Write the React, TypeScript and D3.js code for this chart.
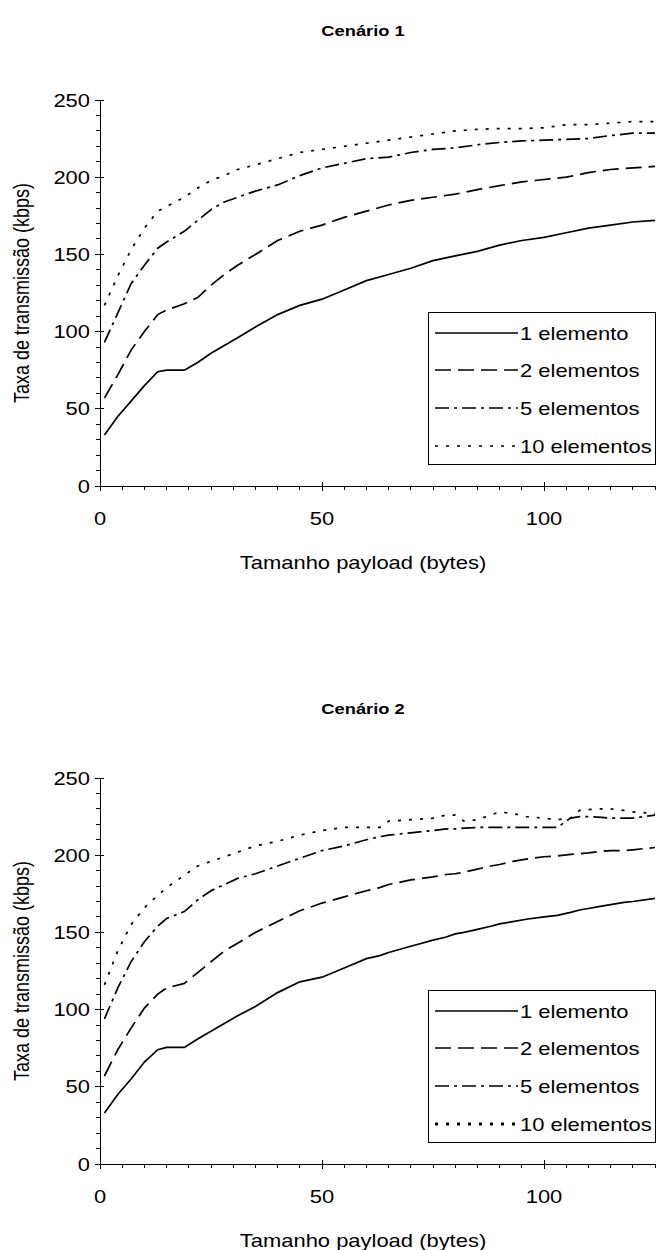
import React from 'react';
import * as d3 from 'd3';

// payload sizes (bytes) sampled for each scenario
const payload1 = [1, 4, 7, 10, 13, 15, 19, 22, 25, 28, 31, 35, 40, 45, 50, 55, 60, 65, 70, 75, 80, 85, 90, 95, 100, 105, 110, 115, 120, 125];
const payload2 = [1, 4, 7, 10, 13, 15, 19, 22, 25, 28, 31, 35, 40, 45, 50, 55, 60, 63, 65, 70, 75, 78, 80, 82, 85, 88, 90, 93, 96, 100, 103, 106, 108, 110, 113, 115, 118, 120, 125];

// Cenário 1 (kbps)
const c1Elem1 = [33, 45, 55, 65, 74, 75, 75, 80, 86, 91, 96, 103, 111, 117, 121, 127, 133, 137, 141, 146, 149, 152, 156, 159, 161, 164, 167, 169, 171, 172];
const c1Elem2 = [57, 72, 88, 100, 111, 114, 118, 122, 130, 137, 143, 150, 159, 165, 169, 174, 178, 182, 185, 187, 189, 192, 194.5, 197, 198.5, 200, 203, 205, 206, 207];
const c1Elem5 = [93, 112, 131, 143, 154, 158, 165, 172, 179, 184, 187, 191, 195, 201, 206, 209, 212, 213, 216, 218, 219, 221, 222.5, 223.5, 224, 224.5, 225, 227, 228.5, 228.5];
const c1Elem10 = [117, 136, 153, 167, 178, 181, 187, 193, 198, 201, 205, 208, 212, 216, 218, 220, 222, 224, 226, 228, 230, 231, 231.5, 231.5, 232, 234, 234, 235, 236, 236];

// Cenário 2 (kbps)
const c2Elem1 = [33, 45, 55, 66, 74, 75.5, 75.5, 81, 86, 91, 96, 102, 111, 118, 121, 127, 133, 135, 137, 141, 145, 147, 149, 150, 152, 154, 155.5, 157, 158.5, 160, 161, 163, 164.5, 165.5, 167, 168, 169.5, 170, 172];
const c2Elem2 = [57, 74, 88, 101, 110, 114, 117, 124, 131, 138, 143, 150, 157, 164, 169, 173, 177, 179, 181, 184, 186, 187.5, 188, 189, 191, 193, 194, 196, 197.5, 199, 199.5, 200.5, 201, 201.5, 202.5, 203, 203, 203.5, 205];
const c2Elem5 = [94, 114, 131, 144, 154, 159, 163.5, 171, 177, 181, 185, 188, 193, 198, 203, 206, 210, 212, 213, 214.5, 216, 217, 217, 217.5, 218, 218, 218, 218, 218, 218, 218, 224, 225, 225, 224.5, 224, 224, 224, 226];
const c2Elem10 = [116, 138, 155, 166, 174, 179, 187, 193, 196, 199, 202, 206, 209, 213, 216, 218, 218, 218, 222, 223, 224, 226, 226, 222, 223, 226, 228, 227, 225, 224, 223, 224, 229, 229.5, 230, 230, 229, 228, 227];

const seriesNames = ['1 elemento', '2 elementos', '5 elementos', '10 elementos'];
const yMajor = [0, 50, 100, 150, 200, 250];
const xMajor = [0, 50, 100];

const FONT = '"Liberation Sans", Arial, Helvetica, sans-serif';
const SX = 1.22; // the original figure is stretched sideways
const dashes = ['none', '16,7', '14,5,3,5', '3,8'];

type TProps = { x: number; y: number; anchor?: string; size?: number; bold?: boolean; rot?: boolean; children: React.ReactNode };

// text with the same sideways stretch as the source image
function T({ x, y, anchor = 'start', size = 18, bold = false, rot = false, children }: TProps) {
  return (
    <text transform={`translate(${x},${y}) scale(${SX},1)${rot ? ' rotate(-90)' : ''}`}
      textAnchor={anchor} fontSize={size} fontWeight={bold ? 'bold' : 'normal'} fill="#000">
      {children}
    </text>
  );
}

type PanelProps = {
  top: number;
  title: string;
  xs: number[];
  series: number[][];
  legendDotWidth: number;
};

function Panel({ top, title, xs, series, legendDotWidth }: PanelProps) {
  const x = d3.scaleLinear().domain([0, 125]).range([100, 655]);
  const y = d3.scaleLinear().domain([0, 250]).range([top + 486, top + 100]);
  const line = d3.line<number>()
    .x((_, i) => x(xs[i]))
    .y(d => y(d));

  const yMinor = d3.range(0, 251, 10).filter(v => v % 50 !== 0);
  const xMinor = d3.range(0, 126, 5).filter(v => v % 50 !== 0);
  const x0 = x(0);
  const yBase = y(0);

  const legX = 428, legW = 227, legTop = top + 312, legH = 152;
  const rowY = [333, 370, 408, 446].map(v => v + top);

  return (
    <g fontFamily={FONT}>
      <T x={363} y={top + 36} anchor="middle" size={15} bold>{title}</T>

      {/* axes */}
      <line x1={x0} x2={x0} y1={y(250)} y2={yBase} stroke="#000" strokeWidth={1} shapeRendering="crispEdges" />
      <line x1={x0} x2={x(125)} y1={yBase} y2={yBase} stroke="#000" strokeWidth={1} shapeRendering="crispEdges" />
      {yMajor.map(v => (
        <g key={'ym' + v}>
          <line x1={x0 - 5} x2={x0 + 4} y1={y(v)} y2={y(v)} stroke="#000" shapeRendering="crispEdges" />
          <T x={x0 - 10} y={y(v) + 6.5} anchor="end">{v}</T>
        </g>
      ))}
      {yMinor.map(v => (
        <line key={'yn' + v} x1={x0 - 4} x2={x0} y1={y(v)} y2={y(v)} stroke="#000" shapeRendering="crispEdges" />
      ))}
      {xMajor.map(v => (
        <g key={'xm' + v}>
          <line x1={x(v)} x2={x(v)} y1={yBase - 4} y2={yBase + 5} stroke="#000" shapeRendering="crispEdges" />
          <T x={x(v)} y={yBase + 39} anchor="middle">{v}</T>
        </g>
      ))}
      {xMinor.map(v => (
        <line key={'xn' + v} x1={x(v)} x2={x(v)} y1={yBase} y2={yBase + 4} stroke="#000" shapeRendering="crispEdges" />
      ))}

      <T x={363} y={top + 569} anchor="middle">Tamanho payload (bytes)</T>
      <T x={29} y={top + 293} anchor="middle" rot>Taxa de transmissão (kbps)</T>

      {/* series */}
      {series.map((s, i) => (
        <path key={'s' + i} d={line(s) || ''} fill="none" stroke="#000" strokeWidth={1.7}
          strokeDasharray={dashes[i]} />
      ))}

      {/* legend */}
      <rect x={legX} y={legTop} width={legW} height={legH} fill="#fff" stroke="#000" strokeWidth={1} shapeRendering="crispEdges" />
      {seriesNames.map((name, i) => (
        <g key={'l' + i}>
          <line x1={435} x2={518} y1={rowY[i]} y2={rowY[i]} stroke="#000"
            strokeWidth={i === 3 ? legendDotWidth : 1.7} strokeDasharray={dashes[i]} />
          <T x={520} y={rowY[i] + 6.5}>{name}</T>
        </g>
      ))}
    </g>
  );
}

export default function App() {
  return (
    <div style={{ position: 'absolute', left: 0, top: 0 }}>
      <svg width={656} height={1250} style={{ display: 'block', background: '#fff' }}>
        <Panel top={0} title="Cenário 1" xs={payload1}
          series={[c1Elem1, c1Elem2, c1Elem5, c1Elem10]} legendDotWidth={1.7} />
        <Panel top={678} title="Cenário 2" xs={payload2}
          series={[c2Elem1, c2Elem2, c2Elem5, c2Elem10]} legendDotWidth={2.8} />
      </svg>
    </div>
  );
}
